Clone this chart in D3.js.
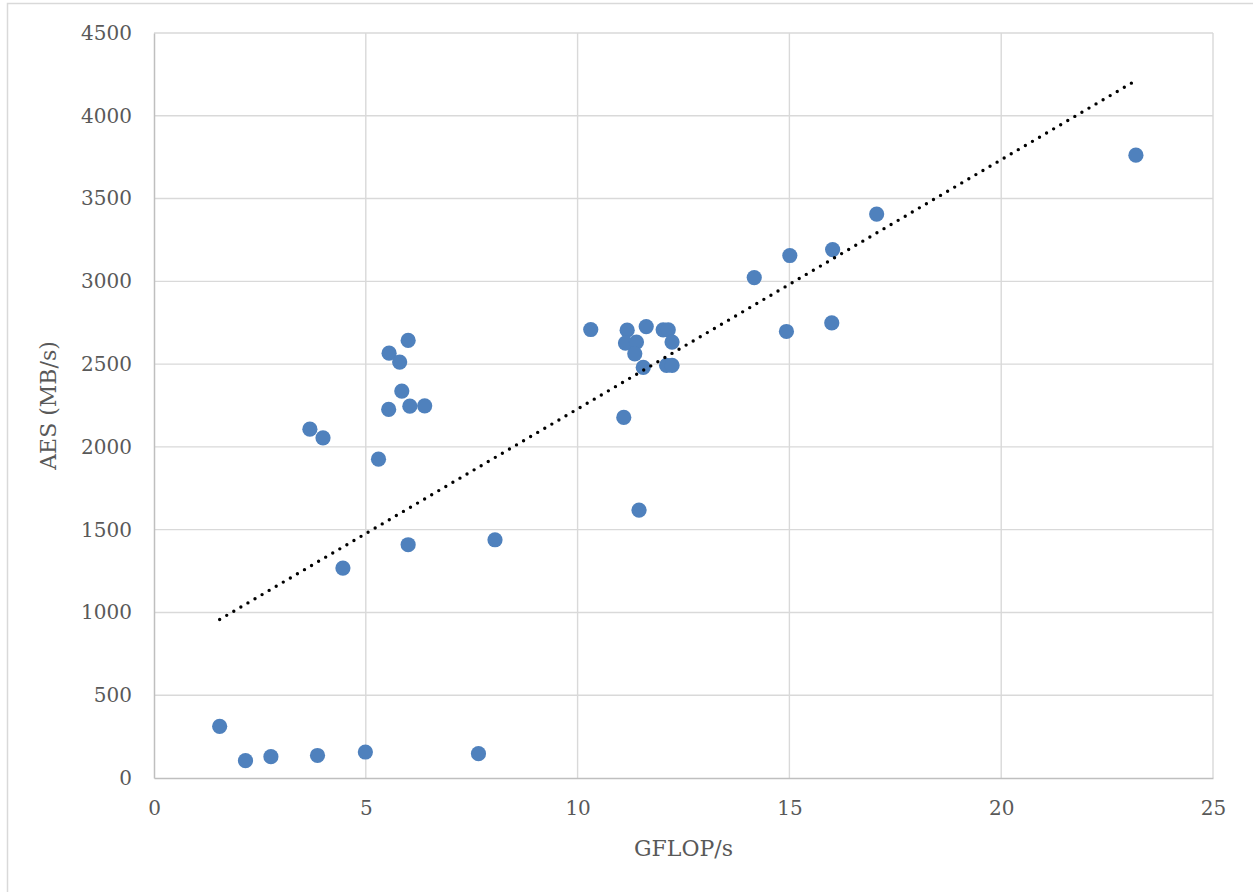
<!DOCTYPE html>
<html>
<head>
<meta charset="utf-8">
<script src="https://cdn.jsdelivr.net/npm/d3@7"></script>
<style>
  body { margin: 0; background: #fff; }
  svg { display: block; }
  text { font-family: "DejaVu Serif", serif; fill: #595959; }
</style>
</head>
<body>
<div id="cnt"></div>
<script>
// GFLOP/s vs AES throughput, one entry per machine
const gflops = [1.55, 2.16, 2.76, 3.86, 4.99, 7.66,
    6.0, 5.55, 5.80, 5.85, 5.54, 6.04, 6.39,
    3.68, 3.99, 5.30, 6.0, 4.46, 8.05,
    10.31, 11.17, 11.62, 12.02, 12.14,
    11.13, 11.39, 12.23, 11.35, 11.55,
    12.10, 12.23, 11.09, 11.45,
    14.17, 15.01, 16.02, 17.06, 14.93, 16.0, 23.18]
const aes = [312, 105, 129, 136, 157, 147,
    2643, 2566, 2512, 2337, 2226, 2246, 2248,
    2107, 2055, 1926, 1409, 1268, 1439,
    2709, 2705, 2727, 2707, 2707,
    2627, 2633, 2633, 2562, 2480,
    2492, 2492, 2178, 1618,
    3023, 3156, 3192, 3406, 2697, 2749, 3762]
const xTicks = [0, 5, 10, 15, 20, 25]
const yTicks = [0, 500, 1000, 1500, 2000, 2500, 3000, 3500, 4000, 4500]
const xTitle = 'GFLOP/s'
const yTitle = 'AES (MB/s)'

const width = 1253
const height = 892
const margin = {top: 33, right: 40, bottom: 114, left: 154}
const gridColor = '#d9d9d9'
const axisColor = '#bfbfbf'
const dotColor = '#4f81bd'

const svg = d3.select('#cnt')
    .append('svg')
    .attr('width', width)
    .attr('height', height)

// chart area frame (runs off right/bottom edge like the original)
svg.append('rect')
    .attr('x', 7.5)
    .attr('y', 3.5)
    .attr('width', width + 20)
    .attr('height', height + 20)
    .attr('fill', 'none')
    .attr('stroke', gridColor)
    .attr('stroke-width', 1.5)

const x = d3.scaleLinear()
    .domain([0, 25])
    .range([margin.left, width - margin.right])
const y = d3.scaleLinear()
    .domain([0, 4500])
    .range([height - margin.bottom, margin.top])

// gridlines
svg.append('g')
    .selectAll('line')
    .data(yTicks.slice(1))
    .join('line')
    .attr('x1', x(0))
    .attr('x2', x(25))
    .attr('y1', d => y(d))
    .attr('y2', d => y(d))
    .attr('stroke', gridColor)
    .attr('stroke-width', 1.4)

svg.append('g')
    .selectAll('line')
    .data(xTicks.slice(1))
    .join('line')
    .attr('x1', d => x(d))
    .attr('x2', d => x(d))
    .attr('y1', y(0))
    .attr('y2', y(4500))
    .attr('stroke', gridColor)
    .attr('stroke-width', 1.4)

// axes
const xAxis = svg.append('g')
    .attr('transform', `translate(0,${y(0)})`)
    .call(d3.axisBottom(x).tickValues(xTicks).tickSize(0).tickPadding(23).tickFormat(d3.format('d')))
const yAxis = svg.append('g')
    .attr('transform', `translate(${x(0)},0)`)
    .call(d3.axisLeft(y).tickValues(yTicks).tickSize(0).tickPadding(22).tickFormat(d3.format('d')))

for (const ax of [xAxis, yAxis]) {
    ax.select('.domain').attr('stroke', axisColor).attr('stroke-width', 1.5)
    ax.selectAll('text')
        .style('font-family', '"DejaVu Serif", serif')
        .style('font-size', '20px')
        .attr('fill', '#595959')
}

svg.append('text')
    .attr('x', (x(0) + x(25)) / 2)
    .attr('y', 856)
    .attr('text-anchor', 'middle')
    .style('font-size', '22px')
    .text(xTitle)

svg.append('text')
    .attr('transform', `translate(56,${(y(0) + y(4500)) / 2}) rotate(-90)`)
    .attr('text-anchor', 'middle')
    .style('font-size', '22px')
    .text(yTitle)

// points
const data = gflops.map((g, i) => ({g: g, a: aes[i]}))

svg.append('g')
    .selectAll('circle')
    .data(data)
    .join('circle')
    .attr('cx', d => x(d.g))
    .attr('cy', d => y(d.a))
    .attr('r', 7.6)
    .attr('fill', dotColor)

// linear trendline (least squares), drawn over the x range of the data
const mx = d3.mean(gflops)
const my = d3.mean(aes)
const slope = d3.sum(data, d => (d.g - mx) * (d.a - my)) / d3.sum(data, d => (d.g - mx) ** 2)
const icpt = my - slope * mx
const ext = d3.extent(gflops)

svg.append('line')
    .attr('x1', x(ext[0]))
    .attr('x2', x(ext[1]))
    .attr('y1', y(icpt + slope * ext[0]))
    .attr('y2', y(icpt + slope * ext[1]))
    .attr('stroke', '#000')
    .attr('stroke-width', 3.4)
    .attr('stroke-linecap', 'round')
    .attr('stroke-dasharray', '0 8.2')
</script>
</body>
</html>
